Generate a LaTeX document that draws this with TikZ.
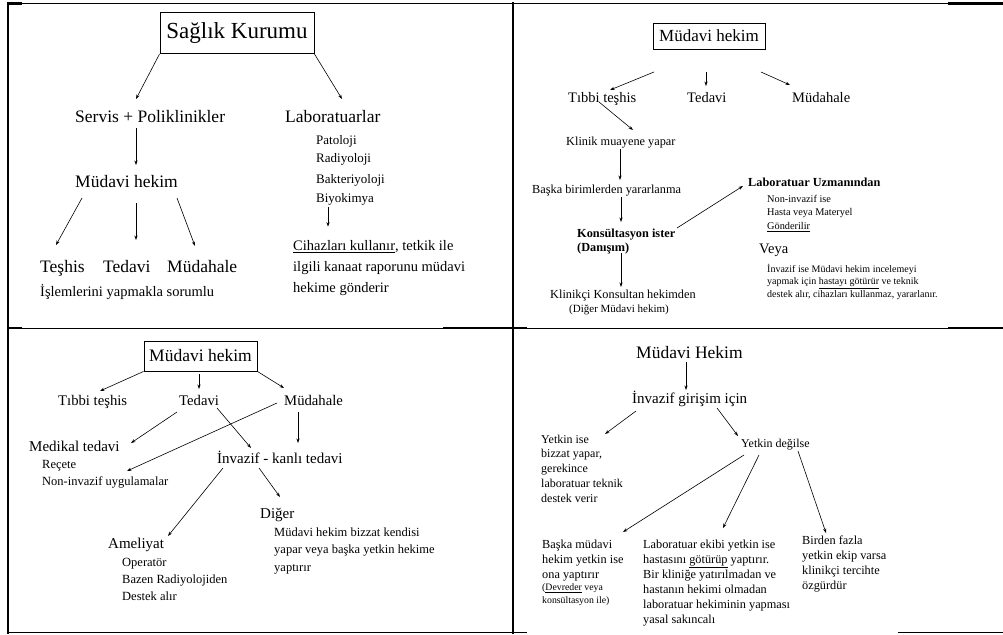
\documentclass[tikz,border=0pt]{standalone}
\usepackage{fontspec}
\setmainfont{Liberation Serif}
\usetikzlibrary{arrows.meta}
\newcommand\fsz[2]{\fontsize{#1}{#2}\selectfont}
\tikzset{
  lbl/.style={inner sep=0pt, anchor=west, font=\fsz{#1}{#1}, text height={0.74*#1pt}, text depth={0.06*#1pt}},
  blk/.style={inner sep=0pt, anchor=north west, align=left},
  kutu/.style={draw, line width=0.9pt, inner sep=0pt},
  arr/.style={line width=0.6pt, -{Stealth[length=4.5pt,width=3.2pt]}},
  frm/.style={line width=0.8pt},
  kalin/.style={line width=2.2pt},
}

\begin{document}
\begin{tikzpicture}[x=1pt,y=-1pt]
				\useasboundingbox (0,0) rectangle (1003,634);
				
				% frame
				\draw[frm] (8,3) -- (1003,3);
				\draw[kalin] (8,3.5) -- (22,3.5);
				\draw[kalin] (948,3.5) -- (1003,3.5);
				\draw[line width=1.6pt] (8,2) -- (8,634);
				\draw[line width=1.4pt] (513,2) -- (513,634);
				\draw[frm] (8,328) -- (1003,328);
				\draw[kalin] (8,328) -- (22,328);
				\draw[kalin] (443,328) -- (527,328);
				\draw[kalin] (948,328) -- (1003,328);
				\draw[line width=1.4pt] (8,632.5) -- (527,632.5);
				\draw[line width=1.4pt] (898,632.5) -- (1003,632.5);
				
				% panel 1
				\node[kutu, minimum width=154pt, minimum height=41pt, font=\fsz{23}{27}] (sk) at (237,33) {Sağlık Kurumu};
				\node[lbl=17.5] (sp) at (75,117) {Servis + Poliklinikler};
				\node[lbl=17.5] (lab) at (285,117) {Laboratuarlar};
				\node[lbl=17.5] (mh1) at (75,182) {Müdavi hekim};
				\node[lbl=17.5] (t1) at (40,267) {Teşhis};
				\node[lbl=17.5] (td1) at (103,267) {Tedavi};
				\node[lbl=17.5] (md1) at (167,267) {Müdahale};
				\node[lbl=14.5] (isl) at (40,292) {İşlemlerini yapmakla sorumlu};
				\node[lbl=13] (pat) at (316,140) {Patoloji};
				\node[lbl=13] (rad) at (316,158) {Radiyoloji};
				\node[lbl=13] (bak) at (316,179) {Bakteriyoloji};
				\node[lbl=13] (biy) at (316,198) {Biyokimya};
				\node[blk, font=\fsz{14.5}{21}] (cih) at (293,240.6) {\underline{Cihazları kullanır}, tetkik ile\\ilgili kanaat raporunu müdavi\\hekime gönderir};
				
				\draw[arr] (sk.south west) -- ([shift={(61,-18)}]sp.west);
				\draw[arr] (sk.south east) -- ([shift={(57,-18)}]lab.west);
				\draw[arr] ([shift={(61,11)}]sp.west) -- ([shift={(61,-17)}]mh1.west);
				\draw[arr] ([shift={(7,16)}]mh1.west) -- ([shift={(16,-22)}]t1.west);
				\draw[arr] ([shift={(61,21)}]mh1.west) -- ([shift={(33,-27)}]td1.west);
				\draw[arr] ([shift={(102,16)}]mh1.west) -- ([shift={(28,-21)}]md1.west);
				\draw[arr] ([shift={(12,9)}]biy.west) -- ([shift={(35,-14)}]cih.north west);
				
				% panel 2
				\node[kutu, minimum width=112pt, minimum height=26pt, font=\fsz{17}{20}] (mh2) at (709,36) {Müdavi hekim};
				\node[lbl=14.5] (tt2) at (568,98) {Tıbbi teşhis};
				\node[lbl=14.5] (td2) at (687,98) {Tedavi};
				\node[lbl=14.5] (md2) at (792,98) {Müdahale};
				\node[lbl=12.3] (kl) at (566,141) {Klinik muayene yapar};
				\node[lbl=12.3] (bb) at (532,189) {Başka birimlerden yararlanma};
				\node[blk, font=\fsz{12.3}{14}\bfseries] (ks) at (577,228.5) {Konsültasyon ister\\(Danışım)};
				\node[lbl=12.3] (kk) at (550,294) {Klinikçi Konsultan hekimden};
				\node[lbl=11] (dm) at (569,308.3) {(Diğer Müdavi hekim)};
				\node[lbl=12.3, font=\fsz{12.3}{15}\bfseries] (lu) at (748,182) {Laboratuar Uzmanından};
				\node[blk, font=\fsz{10.3}{13.5}] (ni) at (767,195) {Non-invazif ise\\Hasta veya Materyel\\\underline{Gönderilir}};
				\node[lbl=14.5] (vy) at (759,249) {Veya};
				\node[blk, font=\fsz{10}{12.5}] (inv) at (767,264) {İnvazif ise Müdavi hekim incelemeyi\\yapmak için \underline{hastayı götürür} ve teknik\\destek alır, cihazları kullanmaz, yararlanır.};
				
				\draw[arr] ([shift={(-55,36)}]mh2.center) -- ([shift={(42,-8)}]tt2.west);
				\draw[arr] ([shift={(-3,36)}]mh2.center) -- ([shift={(19,-12)}]td2.west);
				\draw[arr] ([shift={(52,36)}]mh2.center) -- ([shift={(-2,-13)}]md2.west);
				\draw[arr] ([shift={(31,4)}]tt2.west) -- ([shift={(67,-11)}]kl.west);
				\draw[arr] ([shift={(54,8)}]kl.west) -- ([shift={(88,-9)}]bb.west);
				\draw[arr] ([shift={(89,8)}]bb.west) -- ([shift={(44,-6.5)}]ks.north west);
				\draw[arr] ([shift={(44,24.5)}]ks.north west) -- ([shift={(71,-7)}]kk.west);
				\draw[arr] ([shift={(100,-0.5)}]ks.north west) -- ([shift={(-5,4)}]lu.west);
				
				% panel 3
				\node[kutu, minimum width=113pt, minimum height=30pt, font=\fsz{17.5}{21}] (mh3) at (200.5,356) {Müdavi hekim};
				\node[lbl=14.7] (tt3) at (58,400) {Tıbbi teşhis};
				\node[lbl=14.7] (td3) at (179,400) {Tedavi};
				\node[lbl=14.7] (md3) at (284,400) {Müdahale};
				\node[lbl=15] (mt) at (29,446) {Medikal tedavi};
				\node[blk, font=\fsz{12.5}{17}] (rec) at (42,460.4) {Reçete\\Non-invazif uygulamalar};
				\node[lbl=15] (ik) at (217,458) {İnvazif - kanlı tedavi};
				\node[lbl=15] (am) at (108,543) {Ameliyat};
				\node[blk, font=\fsz{12.5}{17}] (op) at (122,558.4) {Operatör\\Bazen Radiyolojiden\\Destek alır};
				\node[lbl=15] (dg) at (260,513) {Diğer};
				\node[blk, font=\fsz{12.5}{17.5}] (mb) at (274,527.4) {Müdavi hekim bizzat kendisi\\yapar veya başka yetkin hekime\\yaptırır};
				
				\draw[arr] (mh3.south west) -- ([shift={(42,-9)}]tt3.west);
				\draw[arr] ([shift={(-1.5,18)}]mh3.center) -- ([shift={(20,-11)}]td3.west);
				\draw[arr] (mh3.south east) -- ([shift={(0,-12)}]md3.west);
				\draw[arr] ([shift={(-2,12)}]td3.west) -- ([shift={(102,-3)}]mt.west);
				\draw[arr] ([shift={(-7,3)}]md3.west) -- ([shift={(85,10.6)}]rec.north west);
				\draw[arr] ([shift={(38,8)}]td3.west) -- ([shift={(34,-10)}]ik.west);
				\draw[arr] ([shift={(14,12)}]md3.west) -- ([shift={(81,-15)}]ik.west);
				\draw[arr] ([shift={(6,10)}]ik.west) -- ([shift={(60,-7)}]am.west);
				\draw[arr] ([shift={(42,10)}]ik.west) -- ([shift={(20,-16)}]dg.west);
				
				% panel 4
				\node[lbl=17.5] (mH) at (636,353) {Müdavi Hekim};
				\node[lbl=15] (ig) at (632,398) {İnvazif girişim için};
				\node[blk, font=\fsz{12}{14.8}] (yi) at (541,434.6) {Yetkin ise\\bizzat yapar,\\gerekince\\laboratuar teknik\\destek verir};
				\node[lbl=12] (yd) at (741,443) {Yetkin değilse};
				\node[blk, font=\fsz{12.3}{15}] (bm) at (542,539.6) {Başka müdavi\\hekim yetkin ise\\ona yaptırır};
				\node[blk, font=\fsz{9.8}{12.5}] (dv) at (542,583.5) {(\underline{Devreder} veya\\konsültasyon ile)};
				\node[blk, font=\fsz{12.3}{15}] (le) at (643,539.6) {Laboratuar ekibi yetkin ise\\hastasını \underline{götürüp} yaptırır.\\Bir kliniğe yatırılmadan ve\\hastanın hekimi olmadan\\laboratuar hekiminin yapması\\yasal sakıncalı};
				\node[blk, font=\fsz{12.3}{15}] (bf) at (802,535.6) {Birden fazla\\yetkin ekip varsa\\klinikçi tercihte\\özgürdür};
				
				\draw[arr] ([shift={(50,9)}]mH.west) -- ([shift={(54,-8)}]ig.west);
				\draw[arr] ([shift={(4,13)}]ig.west) -- ([shift={(64,-0.6)}]yi.north west);
				\draw[arr] ([shift={(85,10)}]ig.west) -- ([shift={(-3,-7)}]yd.west);
				\draw[arr] ([shift={(3,12)}]yd.west) -- ([shift={(81,-7.6)}]bm.north west);
				\draw[arr] ([shift={(18,12)}]yd.west) -- ([shift={(80,-11.6)}]le.north west);
				\draw[arr] ([shift={(57,8)}]yd.west) -- ([shift={(24,-2.6)}]bf.north west);
			\end{tikzpicture}
\end{document}
